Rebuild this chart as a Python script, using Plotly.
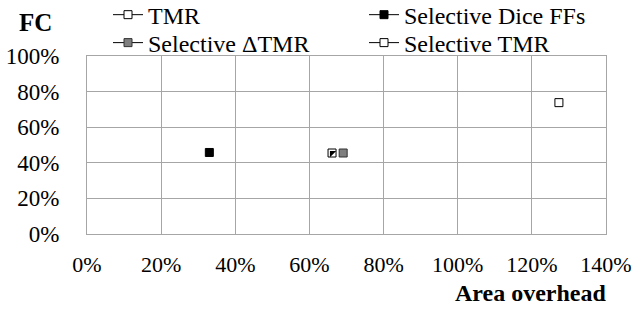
import plotly.graph_objects as go

series_names = ["TMR", "Selective Dice FFs", "Selective \u0394TMR", "Selective TMR"]
area_overhead = [1.273, 0.330, 0.691, 0.661]
fault_coverage = [0.738, 0.458, 0.455, 0.455]
x_ticks = [0, 0.2, 0.4, 0.6, 0.8, 1.0, 1.2, 1.4]
y_ticks = [0, 0.2, 0.4, 0.6, 0.8, 1.0]

FONT = "Liberation Serif"
GRID = "#a6a6a6"

styles = [
    dict(symbol="square", color="white", line=dict(color="black", width=1)),
    dict(symbol="square", color="black", line=dict(color="black", width=1)),
    dict(symbol="square", color="#7f7f7f", line=dict(color="#333333", width=1)),
    dict(symbol="square", color="white", line=dict(color="black", width=1)),
]
legends = ["legend", "legend2", "legend3", "legend4"]

fig = go.Figure()
for i, name in enumerate(series_names):
    fig.add_trace(go.Scatter(
        x=[area_overhead[i]], y=[fault_coverage[i]], name=name,
        mode="lines+markers", line=dict(color="black", width=1),
        marker=dict(size=8, **styles[i]), legend=legends[i],
    ))
# half-filled overlay for Selective TMR marker
fig.add_trace(go.Scatter(
    x=[area_overhead[3]], y=[fault_coverage[3]], mode="markers",
    marker=dict(symbol="triangle-nw", size=7, color="black", line=dict(width=0)),
    showlegend=False, hoverinfo="skip",
))

PH = 178.3
PW = 519.0
def leg(xpx, ypx):
    return dict(orientation="h", xref="paper", yref="paper",
                x=(xpx - 87) / PW, y=1 + (56 - ypx) / PH,
                xanchor="left", yanchor="middle", bgcolor="rgba(0,0,0,0)",
                font=dict(family=FONT, size=24, color="black"),
                itemwidth=30, borderwidth=0)

fig.update_layout(
    width=633, height=309,
    margin=dict(l=87, r=27, t=56, b=75, autoexpand=False),
    paper_bgcolor="white", plot_bgcolor="white",
    font=dict(family=FONT, size=23, color="black"),
    showlegend=True,
    legend=leg(108, 15),
    legend2=leg(364, 15),
    legend3=leg(108, 43),
    legend4=leg(364, 43),
    xaxis=dict(range=[0, 1.4], tickvals=x_ticks, tickformat=".0%",
               showgrid=True, gridcolor=GRID, gridwidth=1, zeroline=False,
               showline=True, linecolor=GRID, linewidth=1, mirror=True,
               ticks="outside", ticklen=11, tickcolor="rgba(0,0,0,0)",
               tickfont=dict(family=FONT, size=22, color="black")),
    yaxis=dict(range=[0, 1.0], tickvals=y_ticks, tickformat=".0%",
               showgrid=True, gridcolor=GRID, gridwidth=1, zeroline=False,
               showline=True, linecolor=GRID, linewidth=1, mirror=True,
               ticks="outside", ticklen=22, tickcolor="rgba(0,0,0,0)",
               tickfont=dict(family=FONT, size=23, color="black")),
    annotations=[
        dict(text="<b>FC</b>", xref="paper", yref="paper", x=(35 - 87) / PW,
             y=1.0 + (56 - 22) / PH,
             xanchor="center", yanchor="middle", showarrow=False,
             font=dict(family=FONT, size=25, color="black")),
        dict(text="<b>Area overhead</b>", xref="paper", yref="paper", x=1.0 + 3 / PW,
             y=-(293 - 234.3) / PH, xanchor="right", yanchor="middle", showarrow=False,
             font=dict(family=FONT, size=24, color="black")),
    ],
)

fig.write_html(
    "out.html",
    config={"displayModeBar": False},
    post_script="document.body.style.margin='0';document.body.style.overflow='hidden';",
)
